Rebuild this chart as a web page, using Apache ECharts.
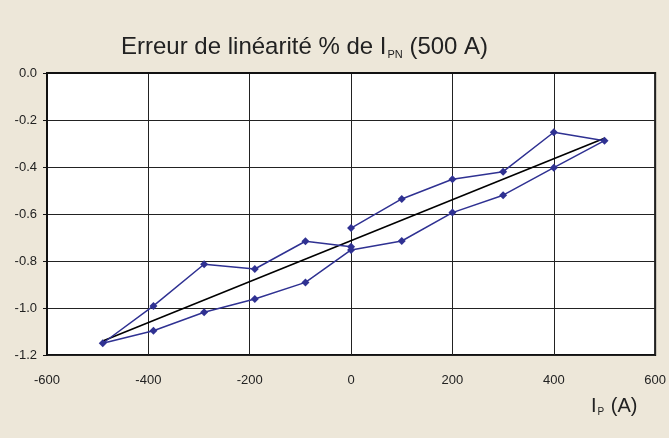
<!DOCTYPE html>
<html>
<head>
<meta charset="utf-8">
<script src="https://cdn.jsdelivr.net/npm/echarts@6/dist/echarts.min.js"></script>
<style>
html, body { margin: 0; padding: 0; background: #ede7d9; }
#chart { width: 669px; height: 438px; }
</style>
</head>
<body>
<div id="chart"></div>
<script>
// measured current (A), path order: 0 -> +500 -> -490 -> 0
var courant = [0, 100, 200, 300, 400, 500, 400, 300, 200, 100, 0, -90, -190, -290, -390, -490, -390, -290, -190, -90, 0]
var erreur = [-0.66, -0.536, -0.452, -0.42, -0.252, -0.288, -0.403, -0.52, -0.594, -0.715, -0.753, -0.891, -0.962, -1.018, -1.097, -1.15, -0.991, -0.814, -0.834, -0.716, -0.739]
// droite de regression
var droiteX = [-490, 500]
var droiteY = [-1.14, -0.278]
var xTicks = [-600, -400, -200, 0, 200, 400, 600]
var yTicks = [0.0, -0.2, -0.4, -0.6, -0.8, -1.0, -1.2]

var myChart = echarts.init(document.getElementById('chart'))
var pts = courant.map(function (x, i) { return [x, erreur[i]] })
var droite = droiteX.map(function (x, i) { return [x, droiteY[i]] })

var option = {
    backgroundColor: '#ede7d9',
    animation: false,
    textStyle: { fontFamily: 'Liberation Sans, Arial, sans-serif' },
    title: {
        text: 'Erreur de linéarité % de I{sub|PN} (500 A)',
        left: 116,
        top: 30,
        textStyle: {
            fontSize: 24,
            fontWeight: 'normal',
            color: '#222',
            rich: {
                sub: { fontSize: 11, padding: [14, 0, 0, 1], color: '#222' }
            }
        }
    },
    grid: {
        left: 47,
        right: 13,
        top: 73,
        bottom: 83,
        show: true,
        backgroundColor: '#fff',
        borderColor: '#111',
        borderWidth: 2
    },
    xAxis: {
        type: 'value',
        min: xTicks[0],
        max: xTicks[xTicks.length - 1],
        interval: 200,
        axisLine: { lineStyle: { color: '#111', width: 2 } },
        axisTick: { show: false },
        splitLine: { lineStyle: { color: '#222', width: 1 } },
        axisLabel: { color: '#222', fontSize: 13, margin: 19 }
    },
    yAxis: {
        type: 'value',
        min: yTicks[yTicks.length - 1],
        max: yTicks[0],
        interval: 0.2,
        axisLine: { show: true, onZero: false, lineStyle: { color: '#111', width: 2 } },
        axisTick: { show: true, length: 4, lineStyle: { color: '#111' } },
        splitLine: { lineStyle: { color: '#222', width: 1 } },
        axisLabel: {
            color: '#222', fontSize: 13, margin: 10,
            formatter: function (v) { return v.toFixed(1) }
        }
    },
    graphic: [{
        type: 'text',
        left: 591,
        top: 396,
        style: {
            text: 'I{sub|P} (A)',
            fontSize: 20,
            fill: '#222',
            fontFamily: 'Liberation Sans, Arial, sans-serif',
            rich: { sub: { fontSize: 10, padding: [13, 1, 0, 1], fill: '#222' } }
        }
    }],
    series: [
        {
            type: 'line',
            data: droite,
            showSymbol: false,
            lineStyle: { color: '#000', width: 1.6 },
            z: 3
        },
        {
            type: 'line',
            data: pts,
            symbol: 'diamond',
            symbolSize: 8,
            itemStyle: { color: '#2f3192' },
            lineStyle: { color: '#2f3192', width: 1.5 },
            z: 4
        }
    ]
}
myChart.setOption(option)
</script>
</body>
</html>
